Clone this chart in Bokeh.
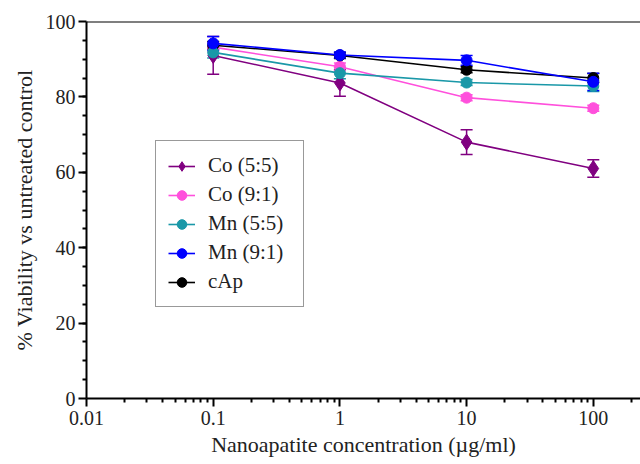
from bokeh.plotting import figure
from bokeh.models import (Range1d, FixedTicker, CustomJSTickFormatter, Whisker, TeeHead,
                          ColumnDataSource, Legend, LegendItem, Span)
from bokeh.embed import file_html
from bokeh.resources import INLINE

# ---- data ----
conc = [0.1, 1, 10, 100]
series_names = ["Co (5:5)", "Co (9:1)", "Mn (5:5)", "Mn (9:1)", "cAp"]
co55 = [91.0, 83.7, 68.0, 61.0]
co55_err = [5.0, 3.5, 3.3, 2.3]
co91 = [93.2, 88.0, 79.8, 77.0]
co91_err = [1.2, 1.0, 0.8, 0.8]
mn55 = [91.8, 86.3, 83.8, 82.9]
mn55_err = [1.5, 1.5, 0.8, 1.5]
mn91 = [94.2, 91.1, 89.7, 84.0]
mn91_err = [1.8, 0.8, 1.3, 2.3]
cap = [93.7, 91.0, 87.2, 85.0]
cap_err = [1.0, 0.8, 0.8, 1.2]

x_ticks = [0.01, 0.1, 1, 10, 100, 1000]
y_ticks = [0, 20, 40, 60, 80, 100]

FONT = "Liberation Serif"

p = figure(width=640, height=464, x_axis_type="log",
           x_range=Range1d(0.01, 235.8), y_range=Range1d(0, 100),
           output_backend="svg", toolbar_location=None,
           min_border_left=86, min_border_right=0, min_border_top=21, min_border_bottom=66)
p.grid.visible = False
p.outline_line_color = None
p.background_fill_color = "white"
p.border_fill_color = "white"

colors = {"Co (5:5)": "#800080", "Co (9:1)": "#FF50DC", "Mn (5:5)": "#1A98A8",
          "Mn (9:1)": "#0000FF", "cAp": "#000000"}
data = {"Co (5:5)": (co55, co55_err), "Co (9:1)": (co91, co91_err),
        "Mn (5:5)": (mn55, mn55_err), "Mn (9:1)": (mn91, mn91_err), "cAp": (cap, cap_err)}

draw_order = ["Co (5:5)", "Co (9:1)", "cAp", "Mn (5:5)", "Mn (9:1)"]
renderers = {}
for name in draw_order:
    vals, errs = data[name]
    c = colors[name]
    src = ColumnDataSource(dict(x=conc, y=vals,
                                upper=[v + e for v, e in zip(vals, errs)],
                                lower=[v - e for v, e in zip(vals, errs)]))
    w = Whisker(source=src, base="x", upper="upper", lower="lower", dimension="height",
                line_color=c, line_width=1.5,
                upper_head=TeeHead(size=12, line_color=c, line_width=1.5),
                lower_head=TeeHead(size=12, line_color=c, line_width=1.5))
    p.add_layout(w)
    lr = p.line("x", "y", source=src, line_color=c, line_width=1.6)
    if name == "Co (5:5)":
        sr = p.scatter("x", "y", source=src, marker="diamond", size=16,
                       fill_color=c, line_color=c)
    else:
        sr = p.scatter("x", "y", source=src, marker="circle", size=11,
                       fill_color=c, line_color=c)
    renderers[name] = [lr, sr]

# axes
p.xaxis.ticker = FixedTicker(ticks=x_ticks,
                             minor_ticks=[m * 10.0 ** e for e in range(-2, 3) for m in range(2, 10)])
p.xaxis.formatter = CustomJSTickFormatter(code="return tick.toString();")
p.yaxis.ticker = FixedTicker(ticks=y_ticks, minor_ticks=list(range(5, 100, 5)))

for ax in (p.xaxis[0], p.yaxis[0]):
    ax.axis_line_width = 2
    ax.axis_line_color = "black"
    ax.major_tick_line_width = 2
    ax.minor_tick_line_width = 2
    ax.major_tick_line_color = "black"
    ax.minor_tick_line_color = "black"
    ax.major_tick_out = 8
    ax.major_tick_in = 0
    ax.minor_tick_out = 4
    ax.minor_tick_in = 0
    ax.major_label_text_font = FONT
    ax.major_label_text_font_size = "20px"
    ax.major_label_text_color = "#222222"
    ax.axis_label_text_font = FONT
    ax.axis_label_text_font_size = "22px"
    ax.axis_label_text_font_style = "normal"
    ax.axis_label_text_color = "#222222"

p.xaxis.axis_label = "Nanoapatite concentration (\u00b5g/ml)"
p.yaxis.axis_label = "% Viability vs untreated control"
p.xaxis.major_label_standoff = 4
p.xaxis.axis_label_standoff = 4
p.yaxis.major_label_standoff = 3
p.yaxis.axis_label_standoff = 6

p.add_layout(Span(location=100, dimension="width", line_color="black", line_width=2))

legend = Legend(items=[LegendItem(label=n, renderers=renderers[n]) for n in series_names],
                location=(69, 91), label_text_font=FONT, label_text_font_size="21px",
                label_text_color="#222222", label_height=24, glyph_height=24, glyph_width=27,
                label_width=83, spacing=4, padding=12, margin=0, label_standoff=13,
                border_line_color="#333333", border_line_width=1.2,
                background_fill_color="white", background_fill_alpha=1.0)
p.add_layout(legend, "center")

open("out.html", "w").write(file_html(p, INLINE))
